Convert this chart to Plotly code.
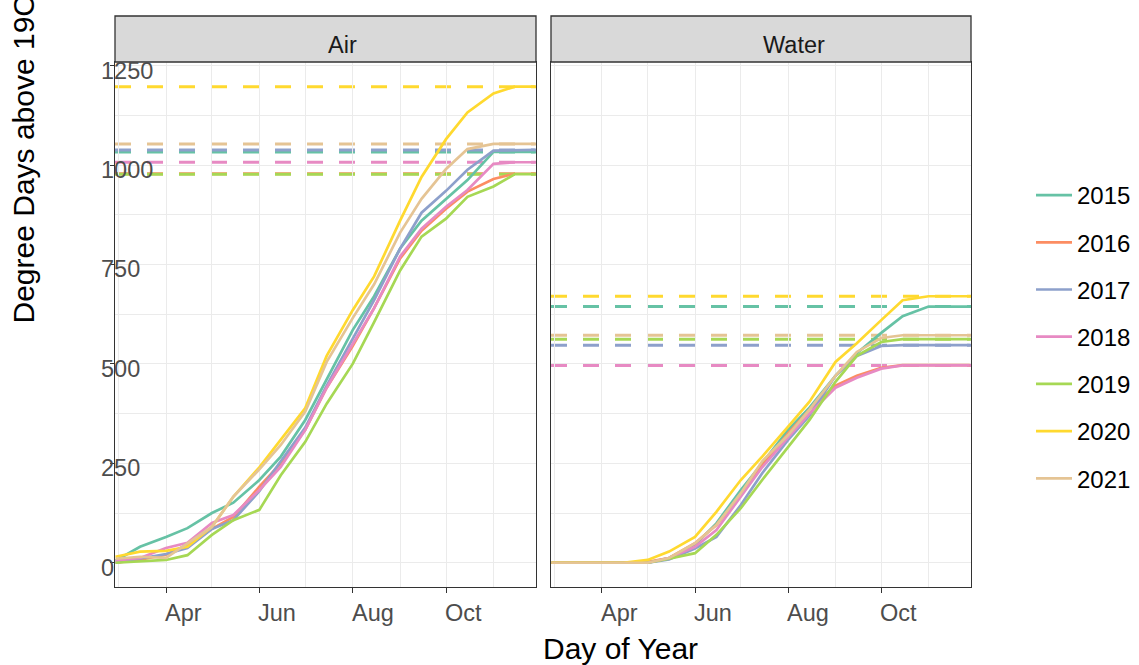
import plotly.graph_objects as go

W, H = 1139, 665

years = ["2015", "2016", "2017", "2018", "2019", "2020", "2021"]
colors = ["#66C2A5", "#FC8D62", "#8DA0CB", "#E78AC3", "#A6D854", "#FFD92F", "#E5C494"]

dates = ["2021-02-27", "2021-03-15", "2021-04-01", "2021-04-15", "2021-05-01", "2021-05-15",
         "2021-06-01", "2021-06-15", "2021-07-01", "2021-07-15", "2021-08-01", "2021-08-15",
         "2021-09-01", "2021-09-15", "2021-10-01", "2021-10-15", "2021-11-01", "2021-11-15",
         "2021-11-28"]

air_2015 = [5, 40, 65, 87, 125, 151, 208, 267, 359, 460, 585, 670, 790, 860, 915, 962, 1033, 1033, 1033]
air_2016 = [0, 8, 20, 45, 85, 115, 191, 250, 334, 440, 545, 640, 765, 835, 890, 933, 965, 978, 978]
air_2017 = [0, 10, 22, 37, 85, 107, 180, 255, 340, 445, 565, 660, 790, 880, 935, 988, 1036, 1038, 1038]
air_2018 = [5, 12, 37, 50, 100, 120, 183, 241, 334, 440, 550, 640, 770, 840, 895, 937, 1003, 1007, 1007]
air_2019 = [0, 3, 7, 19, 70, 107, 133, 220, 304, 400, 500, 605, 735, 820, 865, 920, 946, 977, 977]
air_2020 = [15, 28, 30, 40, 90, 166, 240, 309, 389, 520, 635, 720, 860, 970, 1065, 1132, 1180, 1197, 1197]
air_2021 = [10, 15, 12, 49, 90, 166, 235, 296, 380, 505, 615, 700, 830, 915, 990, 1040, 1053, 1053, 1053]

water_2015 = [0, 0, 0, 0, 0, 12, 45, 99, 183, 250, 334, 390, 470, 527, 578, 620, 644, 644, 644]
water_2016 = [0, 0, 0, 0, 2, 12, 49, 95, 170, 245, 325, 385, 445, 470, 490, 497, 497, 497, 497]
water_2017 = [0, 0, 0, 0, 0, 8, 36, 65, 145, 225, 309, 370, 470, 520, 545, 547, 547, 547, 547]
water_2018 = [0, 0, 0, 0, 0, 12, 40, 82, 166, 240, 315, 375, 440, 465, 488, 496, 496, 496, 496]
water_2019 = [0, 0, 0, 0, 0, 10, 24, 70, 137, 208, 292, 359, 455, 520, 555, 562, 562, 562, 562]
water_2020 = [0, 0, 0, 0, 7, 28, 65, 128, 208, 267, 342, 405, 505, 552, 610, 660, 670, 670, 670]
water_2021 = [0, 0, 0, 0, 0, 12, 49, 95, 175, 255, 321, 385, 470, 530, 565, 572, 572, 572, 572]

air_total = [1033, 978, 1038, 1007, 977, 1197, 1053]
water_total = [644, 497, 547, 496, 562, 670, 572]

x_tick_vals = ["2021-04-01", "2021-06-01", "2021-08-01", "2021-10-01"]
x_tick_text = ["Apr", "Jun", "Aug", "Oct"]
x_minor_vals = ["2021-03-01", "2021-05-01", "2021-07-01", "2021-09-01", "2021-11-01"]
y_tick_vals = [0, 250, 500, 750, 1000, 1250]
y_tick_text = ["0", "250", "500", "750", "1000", "1250"]
y_minor_vals = [125, 375, 625, 875, 1125]

panels = ["Air", "Water"]
x_title = "Day of Year"
y_title = "Degree Days above 19C"

air = [air_2015, air_2016, air_2017, air_2018, air_2019, air_2020, air_2021]
water = [water_2015, water_2016, water_2017, water_2018, water_2019, water_2020, water_2021]

FONT = "Liberation Sans, Arial, sans-serif"
BORDER = "#333333"
GRID = "#EBEBEB"

def px_x(p):
    return p / W

def px_y(p):
    return 1 - p / H

fig = go.Figure()

for i, yr in enumerate(years):
    fig.add_trace(go.Scatter(x=dates, y=air[i], mode="lines", name=yr, legendgroup=yr,
                             line=dict(color=colors[i], width=2.7), xaxis="x", yaxis="y",
                             showlegend=True))
    fig.add_trace(go.Scatter(x=dates, y=water[i], mode="lines", name=yr, legendgroup=yr,
                             line=dict(color=colors[i], width=2.7), xaxis="x2", yaxis="y2",
                             showlegend=False))

shapes = []
for i, yr in enumerate(years):
    for xr, yref, tot in (("x domain", "y", air_total[i]), ("x2 domain", "y2", water_total[i])):
        shapes.append(dict(type="line", xref=xr, yref=yref, x0=0, x1=1, y0=tot, y1=tot,
                           line=dict(color=colors[i], width=3, dash="16px,16px"),
                           layer="below"))

# strips
strip_top, strip_bot = 16, 62
for xr in ("x domain", "x2 domain"):
    shapes.append(dict(type="rect", xref=xr, yref="paper", x0=0, x1=1,
                       y0=px_y(strip_bot), y1=px_y(strip_top),
                       fillcolor="#D9D9D9", line=dict(color=BORDER, width=1.3), layer="above"))

x_range = ["2021-02-26 16:00", "2021-11-28 19:00"]
y_range = [-61, 1259]
ydom = [px_y(587), px_y(62)]

common_x = dict(range=x_range, type="date", tickvals=x_tick_vals, showticklabels=False,
                ticks="outside", ticklen=5, tickwidth=1.2, tickcolor=BORDER,
                showgrid=True, gridcolor=GRID, gridwidth=1.3,
                minor=dict(tickvals=x_minor_vals, showgrid=True, gridcolor=GRID, gridwidth=1.0, ticks=""),
                showline=True, mirror=True, linecolor=BORDER, linewidth=1.3, zeroline=False,
                fixedrange=True)
common_y = dict(range=y_range, tickvals=y_tick_vals, showticklabels=False,
                showgrid=True, gridcolor=GRID, gridwidth=1.3,
                minor=dict(tickvals=y_minor_vals, showgrid=True, gridcolor=GRID, gridwidth=1.0, ticks=""),
                showline=True, mirror=True, linecolor=BORDER, linewidth=1.3, zeroline=False,
                fixedrange=True)

annotations = []
# strip labels
for xr, lab in (("x domain", panels[0]), ("x2 domain", panels[1])):
    annotations.append(dict(text=lab, xref=xr, yref="paper", x=0.5, y=px_y(45),
                            xanchor="left", yanchor="middle", showarrow=False,
                            font=dict(family=FONT, size=23.5, color="#1A1A1A")))
# x tick labels (left-justified at the tick)
for xr in ("x", "x2"):
    for v, t in zip(x_tick_vals, x_tick_text):
        annotations.append(dict(text=t, xref=xr, yref="paper", x=v, y=px_y(598),
                                xanchor="left", yanchor="top", showarrow=False, xshift=-3,
                                font=dict(family=FONT, size=23.5, color="#4D4D4D")))
# y tick labels (left panel only)
for v, t in zip(y_tick_vals, y_tick_text):
    annotations.append(dict(text=t, xref="paper", yref="y", x=px_x(99), y=v,
                            xanchor="left", yanchor="middle", showarrow=False, yshift=-5,
                            font=dict(family=FONT, size=23.5, color="#4D4D4D")))
# axis titles
annotations.append(dict(text=x_title, xref="paper", yref="paper", x=px_x(541), y=px_y(648),
                        xanchor="left", yanchor="middle", showarrow=False,
                        font=dict(family=FONT, size=30, color="#000000")))
annotations.append(dict(text=y_title, xref="paper", yref="paper", x=px_x(23), y=px_y(326),
                        xanchor="center", yanchor="bottom", showarrow=False, textangle=-90,
                        font=dict(family=FONT, size=30, color="#000000")))

fig.update_layout(
    width=W, height=H, margin=dict(l=0, r=0, t=0, b=0),
    paper_bgcolor="white", plot_bgcolor="white",
    font=dict(family=FONT, size=23.5, color="#000000"),
    xaxis=dict(domain=[px_x(115), px_x(536)], anchor="y", **common_x),
    xaxis2=dict(domain=[px_x(551), px_x(971)], anchor="y2", **common_x),
    yaxis=dict(domain=ydom, anchor="x", ticks="outside", ticklen=4, tickwidth=1.2,
               tickcolor=BORDER, **common_y),
    yaxis2=dict(domain=ydom, anchor="x2", matches="y", ticks="", **common_y),
    shapes=shapes, annotations=annotations,
    showlegend=True,
    legend=dict(x=px_x(1031), xanchor="left", y=px_y(337), yanchor="middle",
                font=dict(family=FONT, size=24, color="#000000"),
                tracegroupgap=13, itemwidth=36, bgcolor="rgba(0,0,0,0)"),
)

fig.write_html("out.html", config={"displayModeBar": False},
               post_script="document.body.style.margin='0';document.body.style.overflow='hidden';")
